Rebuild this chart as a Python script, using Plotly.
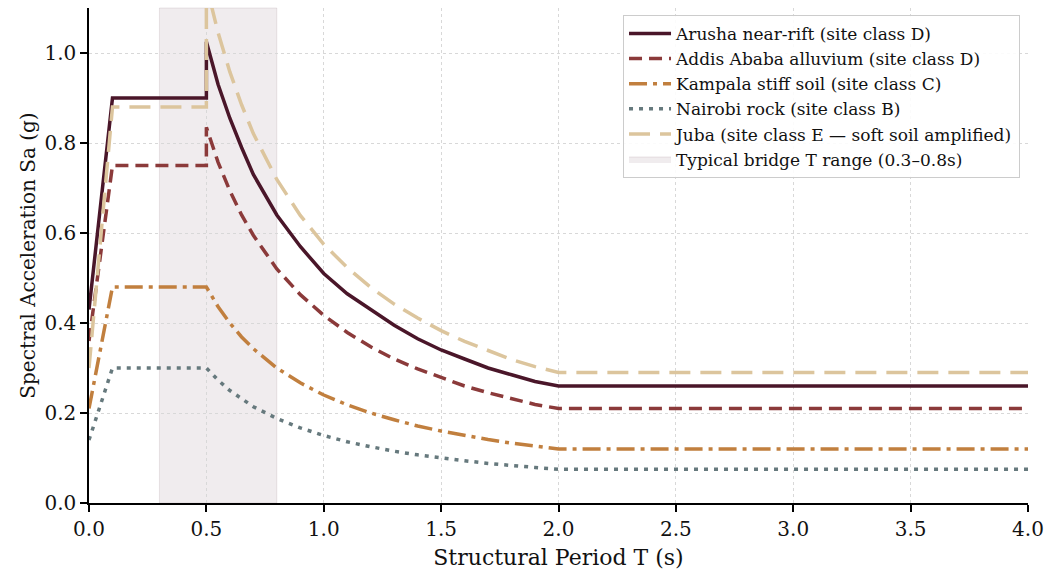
import plotly.graph_objects as go

# Structural period (s)
T_POINTS = [0.0, 0.1, 0.5, 0.5, 0.55, 0.6, 0.65, 0.7, 0.8, 0.9, 1.0, 1.1, 1.2, 1.3,
            1.4, 1.5, 1.6, 1.7, 1.8, 1.9, 2.0, 4.0]

ARUSHA = [0.43, 0.90, 0.90, 1.025, 0.93, 0.855, 0.79, 0.73, 0.64, 0.57, 0.51, 0.465,
          0.43, 0.395, 0.365, 0.34, 0.32, 0.30, 0.285, 0.27, 0.26, 0.26]
ADDIS = [0.36, 0.75, 0.75, 0.835, 0.757, 0.694, 0.64, 0.595, 0.52, 0.463, 0.417, 0.379,
         0.347, 0.32, 0.298, 0.278, 0.26, 0.245, 0.231, 0.219, 0.21, 0.21]
KAMPALA = [0.21, 0.48, 0.48, 0.48, 0.436, 0.40, 0.369, 0.343, 0.30, 0.267, 0.24, 0.218,
           0.20, 0.185, 0.171, 0.16, 0.15, 0.141, 0.133, 0.126, 0.12, 0.12]
NAIROBI = [0.14, 0.30, 0.30, 0.30, 0.273, 0.25, 0.231, 0.214, 0.188, 0.167, 0.15, 0.136,
           0.125, 0.115, 0.107, 0.10, 0.094, 0.088, 0.083, 0.079, 0.075, 0.075]
JUBA = [0.30, 0.88, 0.88, 1.15, 1.045, 0.958, 0.885, 0.821, 0.719, 0.639, 0.575, 0.523,
        0.479, 0.442, 0.411, 0.383, 0.359, 0.338, 0.319, 0.303, 0.29, 0.29]

SERIES_NAMES = [
    "Arusha near-rift (site class D)",
    "Addis Ababa alluvium (site class D)",
    "Kampala stiff soil (site class C)",
    "Nairobi rock (site class B)",
    "Juba (site class E \u2014 soft soil amplified)",
]
BAND = [0.3, 0.8]
BAND_NAME = "Typical bridge T range (0.3\u20130.8s)"

X_TICKS = [0.0, 0.5, 1.0, 1.5, 2.0, 2.5, 3.0, 3.5, 4.0]
Y_TICKS = [0.0, 0.2, 0.4, 0.6, 0.8, 1.0]

styles = [
    dict(color="#4a1629", width=3.5, dash="solid"),
    dict(color="#8b3a3a", width=3.5, dash="13px,7px"),
    dict(color="#c17f3e", width=3.5, dash="18px,6px,4px,6px"),
    dict(color="#66797d", width=3.5, dash="4px,6px"),
    dict(color="#dcc59d", width=3.5, dash="21px,10px"),
]

BAND_FILL = "rgba(120,85,100,0.11)"
BAND_EDGE = "rgba(120,85,100,0.14)"

fig = go.Figure()

fig.add_vrect(x0=BAND[0], x1=BAND[1], fillcolor=BAND_FILL,
              line=dict(color=BAND_EDGE, width=1), layer="below")

for name, ys, st in zip(SERIES_NAMES, [ARUSHA, ADDIS, KAMPALA, NAIROBI, JUBA], styles):
    fig.add_trace(go.Scatter(x=T_POINTS, y=ys, mode="lines", name=name, line=st))

fig.add_trace(go.Scatter(x=[None], y=[None], mode="lines", name=BAND_NAME,
                         fill="toself", fillcolor=BAND_FILL,
                         line=dict(color=BAND_EDGE, width=1)))

font_family = "DejaVu Serif"
axis_common = dict(
    showline=True, linecolor="black", linewidth=1.5,
    ticks="outside", ticklen=7, tickwidth=1.5, tickcolor="black",
    showgrid=True, gridcolor="#d8d8d8", griddash="dot", gridwidth=1,
    zeroline=False, mirror=False, automargin=False,
    tickfont=dict(size=20),
)
fig.update_layout(
    width=1045, height=571,
    margin=dict(l=89, r=17, t=8, b=68),
    paper_bgcolor="white", plot_bgcolor="white",
    font=dict(family=font_family, size=19, color="#111111"),
    showlegend=True,
    legend=dict(x=0.9915, y=0.986, xanchor="right", yanchor="top",
                bgcolor="rgba(255,255,255,0.9)", bordercolor="#cccccc", borderwidth=1,
                font=dict(family=font_family, size=17, color="#111111"),
                tracegroupgap=0, itemwidth=42),
    xaxis=dict(range=[0, 4], tickvals=X_TICKS, tickformat=".1f",
               title=dict(text="Structural Period T (s)", font=dict(size=22), standoff=10),
               **axis_common),
    yaxis=dict(range=[0, 1.1], tickvals=Y_TICKS, tickformat=".1f",
               title=dict(text="Spectral Acceleration Sa (g)", font=dict(size=20), standoff=3),
               **axis_common),
)

fig.write_html("out.html", config={"displayModeBar": False},
               post_script="document.body.style.margin='0';")
